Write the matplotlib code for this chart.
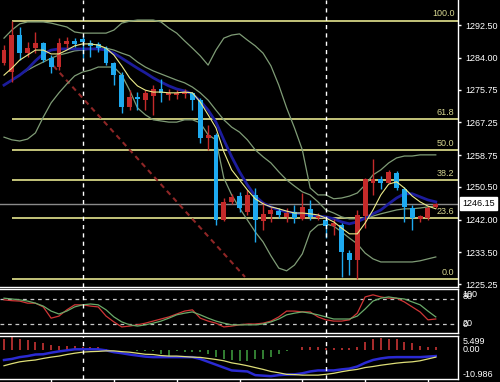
import matplotlib
matplotlib.use("Agg")
import matplotlib.pyplot as plt
import numpy as np

plt.rcParams['font.family'] = ['Liberation Sans', 'DejaVu Sans']

# candles (red = up, blue = down)
opens = [1282.6, 1280.3, 1289.9, 1285.2, 1286.5, 1287.8, 1283.9, 1281.6, 1287.6, 1288.4,
         1288.9, 1287.8, 1287.6, 1286.5, 1282.6, 1279.5, 1271.2, 1273.8, 1273.0, 1274.1,
         1275.9, 1274.3, 1274.3, 1274.6, 1274.9, 1273.0, 1263.2, 1264.0, 1241.9, 1246.6,
         1248.1, 1244.0, 1248.4, 1241.6, 1243.5, 1244.2, 1242.7, 1244.0, 1242.2, 1244.8,
         1242.4, 1241.9, 1240.3, 1240.6, 1233.3, 1231.5, 1242.9, 1251.5, 1252.5, 1251.5,
         1254.1, 1249.9, 1245.0, 1242.2, 1242.4, 1245.3]
highs = [1287.3, 1293.6, 1292.0, 1288.1, 1290.7, 1288.1, 1284.7, 1289.1, 1289.4, 1289.1,
         1289.6, 1288.6, 1288.1, 1287.1, 1282.9, 1280.3, 1275.6, 1275.1, 1275.6, 1276.9,
         1278.5, 1275.9, 1275.6, 1275.9, 1275.1, 1273.6, 1266.6, 1264.5, 1247.6, 1248.6,
         1249.2, 1249.7, 1250.2, 1246.6, 1245.3, 1245.0, 1245.0, 1245.8, 1248.9, 1247.1,
         1243.7, 1242.7, 1242.2, 1241.1, 1234.1, 1244.5, 1252.8, 1257.7, 1253.3, 1254.9,
         1254.6, 1250.5, 1245.8, 1243.2, 1245.5, 1246.3]
lows = [1282.1, 1277.7, 1283.4, 1284.2, 1285.2, 1282.9, 1280.1, 1280.8, 1286.5, 1286.8,
        1284.0, 1284.2, 1285.5, 1282.1, 1276.9, 1269.7, 1270.5, 1270.5, 1270.5, 1269.2,
        1272.5, 1273.0, 1273.3, 1273.6, 1270.5, 1261.9, 1260.1, 1240.6, 1241.6, 1246.1,
        1244.0, 1243.2, 1236.2, 1239.3, 1241.4, 1242.4, 1241.4, 1241.1, 1241.9, 1241.9,
        1241.9, 1237.2, 1238.0, 1227.0, 1227.6, 1226.6, 1239.8, 1248.4, 1249.9, 1251.5,
        1249.7, 1241.4, 1239.3, 1241.4, 1241.9, 1245.0]
closes = [1286.0, 1289.9, 1285.2, 1286.5, 1287.8, 1283.4, 1281.6, 1287.8, 1288.4, 1287.7,
          1288.1, 1287.1, 1286.5, 1282.6, 1279.5, 1271.2, 1273.8, 1273.3, 1274.9, 1275.9,
          1274.9, 1274.9, 1274.9, 1275.1, 1273.0, 1263.2, 1264.0, 1241.9, 1246.6, 1247.9,
          1245.0, 1248.4, 1241.9, 1243.5, 1244.5, 1243.2, 1243.7, 1242.4, 1245.3, 1242.7,
          1242.9, 1240.3, 1241.1, 1233.6, 1231.5, 1243.2, 1252.5, 1252.5, 1251.5, 1254.4,
          1250.2, 1245.3, 1242.4, 1242.9, 1245.0, 1246.15]

# bollinger bands and moving averages
bb_upper = [1289.1, 1291.2, 1292.8, 1293.3, 1293.3, 1293.3, 1293.0, 1292.5, 1292.0, 1290.7,
            1290.4, 1290.4, 1290.4, 1290.4, 1291.2, 1293.0, 1293.5, 1293.8, 1293.8, 1293.8,
            1293.3, 1291.7, 1290.4, 1288.4, 1286.5, 1284.5, 1282.1, 1286.0, 1289.1, 1289.9,
            1290.2, 1288.6, 1287.1, 1285.2, 1281.9, 1276.9, 1271.0, 1265.8, 1260.1, 1250.2,
            1248.4, 1248.4, 1247.4, 1247.6, 1248.1, 1248.9, 1251.0, 1253.6, 1254.9, 1256.7,
            1258.0, 1258.5, 1258.5, 1258.8, 1258.8, 1258.8]
bb_middle = [1276.9, 1278.2, 1279.5, 1280.8, 1281.9, 1282.9, 1283.9, 1284.7, 1285.2, 1285.8,
             1286.0, 1286.3, 1286.5, 1286.5, 1286.0, 1285.2, 1284.5, 1282.9, 1281.6, 1280.6,
             1279.8, 1279.0, 1278.2, 1277.5, 1276.4, 1274.9, 1273.0, 1270.4, 1267.9, 1266.0,
             1264.7, 1262.7, 1260.1, 1258.3, 1256.7, 1254.4, 1252.3, 1250.7, 1249.2, 1248.4,
             1246.6, 1244.5, 1243.7, 1242.7, 1242.2, 1242.2, 1242.4, 1242.9, 1243.5, 1244.0,
             1244.5, 1244.8, 1244.8, 1245.0, 1245.3, 1245.5]
bb_lower = [1263.4, 1262.7, 1262.4, 1262.9, 1264.5, 1268.6, 1272.3, 1274.9, 1277.2, 1279.3,
            1280.3, 1280.8, 1281.6, 1281.6, 1281.6, 1279.5, 1275.6, 1271.0, 1269.2, 1267.9,
            1267.6, 1267.3, 1267.3, 1267.9, 1267.9, 1267.1, 1264.0, 1262.7, 1252.8, 1248.4,
            1245.0, 1241.9, 1238.8, 1236.2, 1232.6, 1229.4, 1228.7, 1230.2, 1233.1, 1238.8,
            1240.6, 1240.9, 1240.3, 1238.8, 1237.2, 1235.7, 1233.3, 1231.8, 1231.0, 1231.0,
            1231.0, 1231.0, 1231.0, 1231.3, 1231.8, 1232.3]
ma_fast = [1279.5, 1281.3, 1283.4, 1284.7, 1286.0, 1286.0, 1285.0, 1285.0, 1286.0, 1287.1,
           1287.6, 1287.6, 1287.3, 1286.5, 1284.7, 1281.9, 1278.8, 1276.7, 1275.6, 1275.1,
           1275.1, 1274.9, 1274.9, 1275.1, 1274.9, 1272.5, 1269.2, 1265.8, 1259.6, 1254.9,
           1252.3, 1249.7, 1247.4, 1246.1, 1245.3, 1244.8, 1244.2, 1243.7, 1243.7, 1243.5,
           1243.2, 1242.4, 1241.4, 1239.8, 1238.3, 1238.3, 1241.1, 1244.5, 1248.4, 1251.2,
           1251.8, 1250.2, 1248.1, 1246.6, 1245.5, 1244.8]
ma_slow = [1276.9, 1278.2, 1279.5, 1281.1, 1283.2, 1285.0, 1286.0, 1286.3, 1286.3, 1286.3,
           1286.3, 1286.3, 1286.3, 1286.0, 1285.2, 1283.9, 1282.6, 1281.3, 1280.1, 1278.8,
           1277.7, 1276.7, 1275.9, 1275.4, 1274.6, 1272.8, 1270.4, 1267.3, 1262.7, 1258.3,
           1254.4, 1251.0, 1248.1, 1246.3, 1245.3, 1244.5, 1244.0, 1243.7, 1243.5, 1243.2,
           1242.9, 1242.7, 1242.2, 1241.4, 1240.9, 1241.4, 1242.4, 1243.5, 1244.5, 1246.1,
           1247.6, 1248.7, 1248.7, 1247.9, 1247.1, 1246.6]

# stochastic
stoch_k = [78, 76, 75, 70, 70, 61, 34, 39, 54, 66, 66, 63, 61, 39, 25, 13, 15, 18, 22, 27,
           32, 37, 44, 51, 54, 34, 27, 22, 13, 15, 18, 20, 20, 22, 27, 37, 51, 51, 49, 49,
           37, 30, 27, 27, 30, 46, 85, 90, 85, 82, 82, 73, 61, 49, 30, 32]
stoch_d = [82, 80, 78, 75, 70, 63, 51, 44, 51, 61, 66, 68, 66, 54, 37, 25, 18, 15, 18, 22,
           27, 34, 42, 46, 49, 42, 34, 27, 22, 18, 18, 18, 18, 20, 25, 32, 42, 46, 49, 46,
           42, 37, 32, 32, 32, 39, 56, 75, 82, 85, 82, 80, 73, 66, 51, 37]

# macd
macd_hist = [4.4, 5.1, 4.4, 4.0, 3.3, 2.9, 2.2, 1.8, 1.5, 1.5, 1.1, 1.1, 1.1, 0.5, 0.3, 0.2,
             0.1, -0.1, -0.2, -0.3, -1.5, -2.2, -0.4, -0.7, -0.7, -0.7, -1.5, -2.6, -3.3, -3.7,
             -4.0, -4.0, -3.3, -3.3, -2.6, -1.5, -0.4, 0.3, 1.1, 1.1, 1.1, 1.0, 0.8, 0.8, 0.8,
             1.1, 3.3, 4.4, 4.8, 4.4, 4.4, 3.3, 2.9, 1.8, 1.1, 1.1]
macd_main = [-3.7, -3.3, -2.6, -2.2, -1.6, -1.5, -0.9, -0.4, 0.0, 0.4, 0.4, 0.4, 0.4, 0.0,
             -0.7, -1.1, -1.6, -2.0, -2.4, -2.6, -2.6, -2.6, -2.6, -2.6, -2.6, -3.3, -4.4,
             -5.5, -6.6, -7.7, -7.9, -8.1, -9.5, -9.7, -9.9, -9.5, -9.3, -9.2, -8.8, -8.1,
             -7.7, -7.7, -7.7, -7.3, -7.0, -6.2, -4.8, -3.7, -3.1, -2.7, -2.6, -2.6, -2.6,
             -2.6, -2.4, -2.2]
macd_signal = [-5.9, -5.1, -4.4, -4.0, -3.7, -3.1, -2.6, -2.2, -1.6, -1.1, -0.7, -0.5, -0.4,
               -0.2, -0.2, -0.5, -0.7, -1.1, -1.5, -1.6, -2.0, -2.2, -2.2, -2.4, -2.6, -2.7,
               -3.1, -3.5, -4.0, -4.8, -5.3, -5.9, -6.6, -7.3, -8.1, -8.6, -9.2, -9.3, -9.5,
               -9.5, -9.5, -9.2, -8.8, -8.2, -7.7, -7.3, -6.6, -6.2, -5.7, -5.3, -4.9, -4.6,
               -4.4, -4.0, -3.3, -2.6]

fib_levels = [0.0, 23.6, 38.2, 50.0, 61.8, 100.0]
fib_low, fib_high = 1226.6, 1293.6
price_ticks = [1292.50, 1284.00, 1275.75, 1267.25, 1258.75, 1250.50, 1242.00, 1233.50, 1225.25]
last_price = 1246.15

W, H = 500, 382
fig = plt.figure(figsize=(W / 100, H / 100), dpi=100, facecolor='black')

def panel(top, bottom, right=458):
    return [0, 1 - bottom / H, right / W, (bottom - top) / H]

ax = fig.add_axes(panel(0, 287))
ax_st = fig.add_axes(panel(289, 333), sharex=ax)
ax_md = fig.add_axes(panel(336, 379), sharex=ax)

for a in (ax, ax_st, ax_md):
    a.set_facecolor('black')
    for s in a.spines.values():
        s.set_color('white')
        s.set_linewidth(1)
    a.spines['left'].set_visible(False)
    a.axvline(10, color='white', lw=1, ls=(0, (3, 3)), zorder=5)
    a.axvline(41, color='white', lw=1, ls=(0, (3, 3)), zorder=5)
    a.yaxis.tick_right()
ax.spines['top'].set_visible(False)

x = np.arange(len(closes))
o = np.array(opens)
c = np.array(closes)
cols = np.where(c >= o, '#c42a2a', '#1eaaf0')

# main panel
for lv in fib_levels:
    yv = fib_low + (fib_high - fib_low) * lv / 100
    ax.hlines(yv, 1, 58, color='#c4c47a', lw=1.4, zorder=1)
    ax.text(57.4, yv + 0.6, f'{lv:.1f}', color='#d6d690', fontsize=6.5,
            ha='right', va='bottom', zorder=6)
ax.axhline(last_price, color='#8a8a8a', lw=1, zorder=1)
ax.plot([6.3, 30.7], [1281.9, 1227.1], color='#8e2626', lw=1.5, ls=(0, (2.5, 2)), zorder=1.5)

ax.plot(x, bb_upper, color='#7f9c76', lw=0.9, zorder=2)
ax.plot(x, bb_middle, color='#7f9c76', lw=0.9, zorder=2)
ax.plot(x, bb_lower, color='#7f9c76', lw=0.9, zorder=2)
ax.plot(x, ma_slow, color='#1c1c9c', lw=2, zorder=2.5)

ax.vlines(x, lows, highs, colors=cols, lw=1, zorder=3)
body_low = np.minimum(o, c)
body_h = np.maximum(np.abs(c - o), 0.35)
ax.bar(x, body_h, bottom=body_low, width=0.62, color=cols, linewidth=0, zorder=3.5)

ax.plot(x, ma_fast, color='#ecec8a', lw=0.8, zorder=4)

ax.set_xlim(-0.51, 57.83)
ax.set_ylim(1224.5, 1299.0)
ax.set_yticks(price_ticks)
ax.set_yticklabels([f'{t:.2f}' for t in price_ticks])
ax.tick_params(axis='y', colors='white', length=2, width=1, labelsize=6.5, pad=3)
ax.tick_params(axis='x', bottom=False, labelbottom=False)
ax.annotate(f'{last_price:.2f}', xy=(1.0, last_price), xycoords=('axes fraction', 'data'),
            xytext=(3, 0), textcoords='offset points', ha='left', va='center',
            fontsize=6.5, color='black',
            bbox=dict(boxstyle='square,pad=0.2', fc='white', ec='white'))

# stochastic panel
ax_st.axhline(80, color='#c8c8c8', lw=0.9, ls=(0, (3, 3)))
ax_st.axhline(20, color='#c8c8c8', lw=0.9, ls=(0, (3, 3)))
ax_st.plot(x, stoch_k, color='#d03636', lw=0.9)
ax_st.plot(x, stoch_d, color='#6aaa6a', lw=0.9)
ax_st.set_ylim(-1.6, 104)
ax_st.set_yticks([])
ax_st.tick_params(axis='x', bottom=False, labelbottom=False)
for txt, yv in [('100', 90), ('80', 85), ('20', 21), ('0', 18)]:
    ax_st.annotate(txt, xy=(1.0, yv), xycoords=('axes fraction', 'data'), xytext=(3, 0),
                   textcoords='offset points', ha='left', va='center', fontsize=6.5,
                   color='white')

# macd panel
hcols = ['#c83434' if h > 0 else '#3c963c' for h in macd_hist]
ax_md.vlines(x, 0, macd_hist, colors=hcols, lw=1.2)
ax_md.plot(x, macd_main, color='#2a2ad2', lw=1.8)
ax_md.plot(x, macd_signal, color='#dede78', lw=0.9)
ax_md.set_ylim(-10.986, 5.499)
ax_md.set_yticks([])
ax_md.set_xticks([6, 14, 22, 30, 38, 46, 54])
ax_md.tick_params(axis='x', colors='white', length=3, width=1, direction='out',
                  labelbottom=False)
for txt, yv in [('5.499', 3.3), ('0.00', 0.2), ('-10.986', -9.4)]:
    ax_md.annotate(txt, xy=(1.0, yv), xycoords=('axes fraction', 'data'), xytext=(3, 0),
                   textcoords='offset points', ha='left', va='center', fontsize=6.5,
                   color='white')

fig.savefig('out.png', dpi=100, facecolor='black')
